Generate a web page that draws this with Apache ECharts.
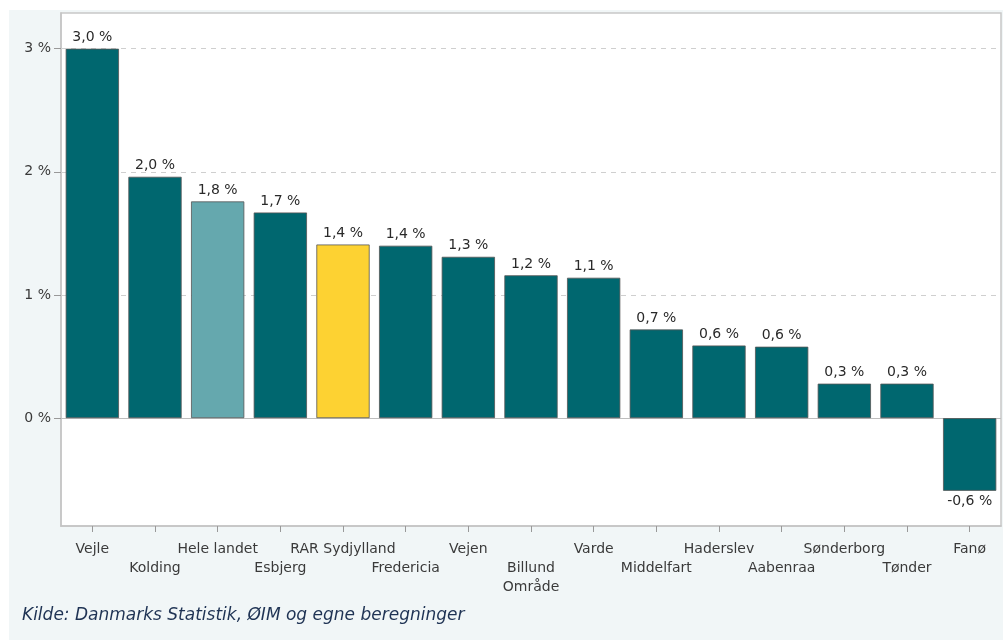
<!DOCTYPE html>
<html>
<head>
<meta charset="utf-8">
<script src="https://cdn.jsdelivr.net/npm/echarts@6/dist/echarts.min.js"></script>
<style>
html,body{margin:0;padding:0;background:#fff;}
#c{width:1003px;height:640px;}
</style>
</head>
<body>
<div id="c"></div>
<script>
const categories = ['Vejle','Kolding','Hele landet','Esbjerg','RAR Sydjylland','Fredericia','Vejen','Billund\nOmråde','Varde','Middelfart','Haderslev','Aabenraa','Sønderborg','Tønder','Fanø'];
const values = [3.0, 1.96, 1.76, 1.67, 1.41, 1.40, 1.31, 1.16, 1.14, 0.72, 0.59, 0.58, 0.28, 0.28, -0.59];
const yTicks = [0, 1, 2, 3];
const gridLines = [1, 2, 3];
const sourceText = 'Kilde: Danmarks Statistik, ØIM og egne beregninger';

const TEAL = '#00676f', LIGHT = '#65a8ae', YELLOW = '#fdd232';
function colorFor(name){
  if (name === 'Hele landet') return LIGHT;
  if (name === 'RAR Sydjylland') return YELLOW;
  return TEAL;
}
const fmt = v => v.toFixed(1).replace('.', ',') + ' %';
const FONT = 'DejaVu Sans';
const FS = 14;

const chart = echarts.init(document.getElementById('c'), null, {renderer:'canvas'});
chart.setOption({
  animation: false,
  backgroundColor: '#ffffff',
  textStyle: {fontFamily: FONT},
  graphic: [
    {type:'rect', left:9, top:10, shape:{width:994, height:630}, style:{fill:'#f1f6f7'}, z:-10, silent:true},
    {type:'text', left:22, top:607, style:{text: sourceText, fill:'#1f3354', font:'italic 17px "DejaVu Sans"'}, z:10}
  ],
  grid: {left:61, right:2, top:13, bottom:114, show:true, backgroundColor:'#ffffff', borderColor:'#c8c8c8', borderWidth:1.5, containLabel:false},
  xAxis: {
    type:'category',
    data: categories,
    axisLine:{show:true, onZero:false, lineStyle:{color:'#c4c4c4', width:1.5}},
    axisTick:{show:true, alignWithLabel:true, length:6, lineStyle:{color:'#999'}},
    axisLabel:{
      interval:0, margin:14, color:'#3a3a3a', fontSize:FS, lineHeight:19, fontFamily:FONT,
      formatter:(v, i) => (i % 2 === 1 ? '\n' : '') + v
    }
  },
  yAxis: {
    type:'value',
    min:-0.876, max:3.29,
    axisLine:{show:true, lineStyle:{color:'#c4c4c4', width:1.5}},
    axisTick:{show:true, length:7, customValues: yTicks, lineStyle:{color:'#999'}},
    axisLabel:{customValues: yTicks, margin:10, color:'#3a3a3a', fontSize:FS, fontFamily:FONT, formatter: v => v + ' %'},
    splitLine:{show:false}
  },
  series: [
    {
      type:'line', data:[], z:1, silent:true,
      markLine:{
        z:1, silent:true, symbol:'none', label:{show:false},
        data: gridLines.map(g => ({yAxis:g, lineStyle:{type:[5,5], color:'#cfcfcf', width:1}}))
          .concat([{yAxis:0, lineStyle:{type:'solid', color:'#bdbdbd', width:1.2}}])
      }
    },
    {
      type:'bar', z:3,
      barCategoryGap:'15%',
      data: values.map((v, i) => ({
        value: v,
        itemStyle:{color: colorFor(categories[i]), borderColor:'#555', borderWidth:0.8},
        label:{position: v < 0 ? 'bottom' : 'top'}
      })),
      label:{show:true, distance:4, color:'#2a2a2a', fontSize:FS, fontFamily:FONT, formatter: p => fmt(p.value)}
    }
  ]
});
</script>
</body>
</html>
